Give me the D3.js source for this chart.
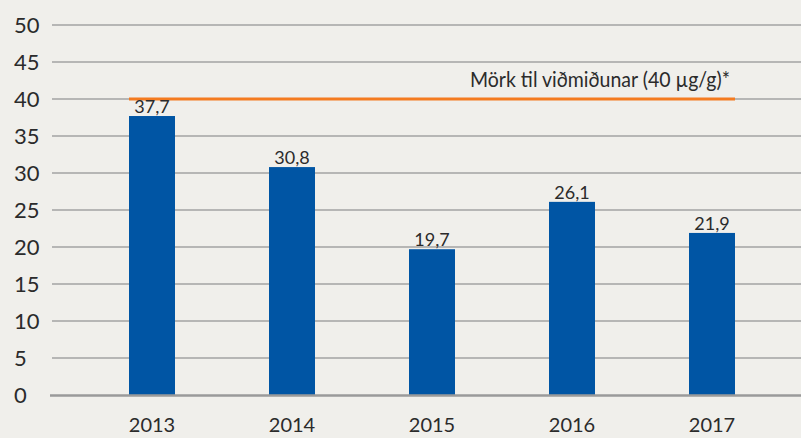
<!DOCTYPE html>
<html>
<head>
<meta charset="utf-8">
<script src="https://cdn.jsdelivr.net/npm/d3@7"></script>
<style>
  body { margin: 0; background: #f0efeb; }
  svg { display: block; }
  text { font-family: "Lato", sans-serif; font-weight: 400; fill: #2b2b2b; }
</style>
</head>
<body>
<div id="chart"></div>
<script>
// data
var years = ["2013", "2014", "2015", "2016", "2017"];
var values = [37.7, 30.8, 19.7, 26.1, 21.9];
var yTicks = [0, 5, 10, 15, 20, 25, 30, 35, 40, 45, 50];
var limitValue = 40;
var limitLabel = "Mörk til viðmiðunar (40 µg/g)*";

var width = 801, height = 438;

var svg = d3.select("#chart").append("svg")
    .attr("width", width)
    .attr("height", height);

svg.append("rect")
    .attr("width", width)
    .attr("height", height)
    .attr("fill", "#f0efeb");

var y = d3.scaleLinear().domain([0, 50]).range([395, 25]);
var x = d3.scalePoint().domain(years).range([152, 712]);
var barW = 46;

// gridlines
svg.selectAll("line.grid")
    .data(yTicks.filter(function(d){ return d > 0; }))
    .enter().append("line")
    .attr("class", "grid")
    .attr("x1", 52).attr("x2", width)
    .attr("y1", function(d){ return y(d); })
    .attr("y2", function(d){ return y(d); })
    .attr("stroke", "#a3a3a3")
    .attr("stroke-width", 1.5);

// y labels
svg.selectAll("text.ytick")
    .data(yTicks)
    .enter().append("text")
    .attr("class", "ytick")
    .attr("x", 14)
    .attr("y", function(d){ return y(d) + 8; })
    .attr("font-size", 22)
    .text(function(d){ return d; });

// bars
svg.selectAll("rect.bar")
    .data(values)
    .enter().append("rect")
    .attr("class", "bar")
    .attr("x", function(d, i){ return x(years[i]) - barW / 2; })
    .attr("width", barW)
    .attr("y", function(d){ return y(d); })
    .attr("height", function(d){ return y(0) - y(d); })
    .attr("fill", "#0055a4");

// x axis line
svg.append("line")
    .attr("x1", 50).attr("x2", width)
    .attr("y1", y(0) + 0.5).attr("y2", y(0) + 0.5)
    .attr("stroke", "#9a9a9a")
    .attr("stroke-width", 2.5);

// limit line
svg.append("line")
    .attr("x1", x(years[0]) - barW / 2).attr("x2", x(years[years.length - 1]) + barW / 2)
    .attr("y1", y(limitValue)).attr("y2", y(limitValue))
    .attr("stroke", "#f47b20")
    .attr("stroke-width", 3);

svg.append("text")
    .attr("x", x(years[years.length - 1]) + barW / 2 - 5)
    .attr("y", y(limitValue) - 12)
    .attr("text-anchor", "end")
    .attr("font-size", 21)
    .attr("textLength", 260)
    .attr("lengthAdjust", "spacingAndGlyphs")
    .text(limitLabel);

// value labels
svg.selectAll("text.val")
    .data(values)
    .enter().append("text")
    .attr("class", "val")
    .attr("x", function(d, i){ return x(years[i]); })
    .attr("y", function(d){ return y(d) - 3; })
    .attr("text-anchor", "middle")
    .attr("font-size", 18)
    .text(function(d){ return String(d).replace(".", ","); });

// x labels
svg.selectAll("text.xtick")
    .data(years)
    .enter().append("text")
    .attr("class", "xtick")
    .attr("x", function(d){ return x(d); })
    .attr("y", 432)
    .attr("text-anchor", "middle")
    .attr("font-size", 20)
    .text(function(d){ return d; });
</script>
</body>
</html>
